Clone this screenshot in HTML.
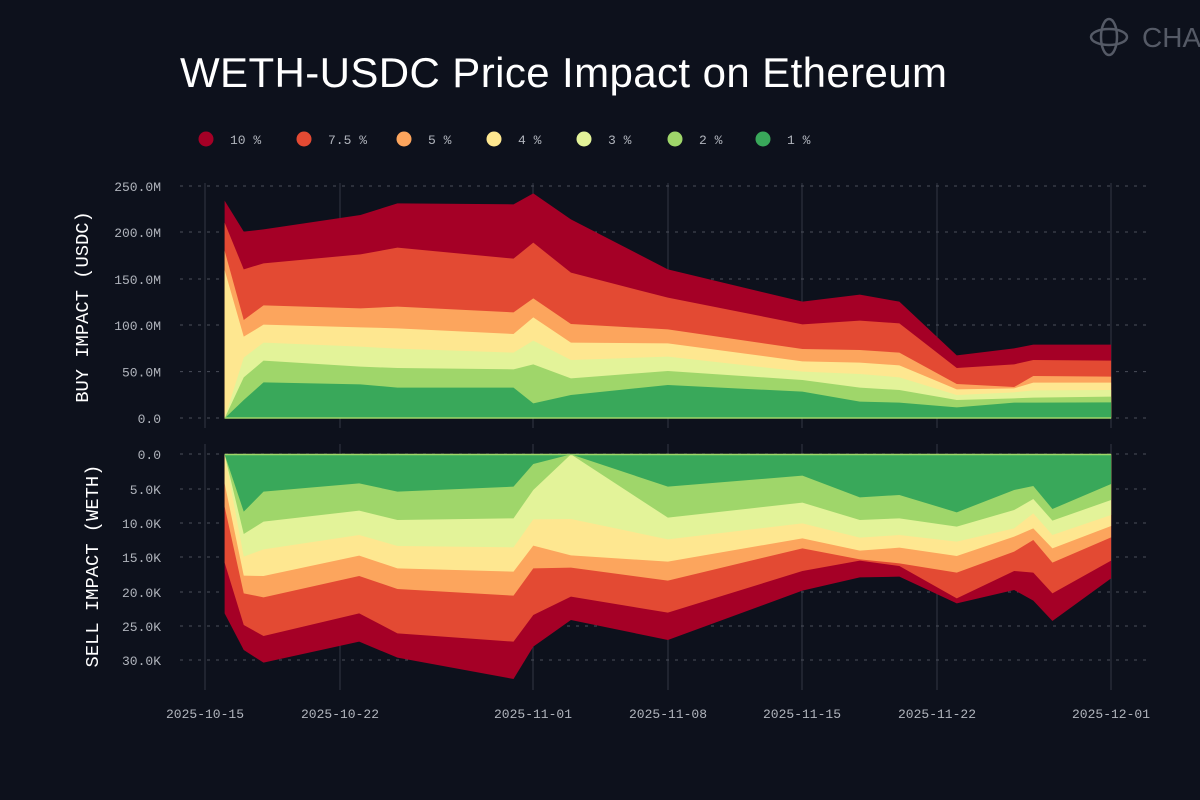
<!DOCTYPE html>
<html><head><meta charset="utf-8"><style>
body{margin:0;background:#0d111c;width:1200px;height:800px;overflow:hidden}
svg{display:block}
text{font-family:"Liberation Mono",monospace}
</style></head><body>
<svg id="s" width="1200" height="800" xmlns="http://www.w3.org/2000/svg">
<rect width="1200" height="800" fill="#0d111c"/>
<g id="grid"></g>
<g id="top"></g>
<g id="bot"></g>
<text x="180" y="87" fill="#fff" font-size="42" letter-spacing="0.4" style="font-family:'Liberation Sans',sans-serif">WETH-USDC Price Impact on Ethereum</text>
<g fill="none" stroke="#555a66" stroke-width="2.5"><ellipse cx="1109" cy="37" rx="8" ry="18"/><ellipse cx="1109" cy="37" rx="18" ry="8"/></g>
<text x="1142" y="47" fill="#555a66" font-size="28" style="font-family:'Liberation Sans',sans-serif">CHAO</text>
<g id="leg" font-size="13" fill="#b0b4bc"></g>
<text transform="translate(88,307) rotate(-90)" text-anchor="middle" fill="#fff" font-size="18.8">BUY IMPACT (USDC)</text>
<text transform="translate(98,566) rotate(-90)" text-anchor="middle" fill="#fff" font-size="18.8">SELL IMPACT (WETH)</text>
</svg>
<script>
const NS="http://www.w3.org/2000/svg";
function el(p,t,a,txt){const e=document.createElementNS(NS,t);for(const k in a)e.setAttribute(k,a[k]);if(txt!==undefined)e.textContent=txt;document.getElementById(p).appendChild(e);return e;}
const cols=["#a50026","#e34a33","#fca55d","#fee790","#e3f399","#9fd66a","#39a85a"];
const labs=["10 %","7.5 %","5 %","4 %","3 %","2 %","1 %"];
const lx=[206,304,404,494,584,675,763];
labs.forEach((l,i)=>{el("leg","circle",{cx:lx[i],cy:139,r:7.5,fill:cols[i]});el("leg","text",{x:lx[i]+24,y:144},l);});
const dx=[205,340,533,668,802,937,1111],dl=["2025-10-15","2025-10-22","2025-11-01","2025-11-08","2025-11-15","2025-11-22","2025-12-01"];
dx.forEach((x,i)=>{el("grid","line",{x1:x,x2:x,y1:183,y2:428,stroke:"#343844"});el("grid","line",{x1:x,x2:x,y1:444,y2:690,stroke:"#343844"});
el("grid","text",{x:x,y:718,"text-anchor":"middle",fill:"#b0b4bc","font-size":13},dl[i]);});
const ty=[[418,"0.0"],[371.6,"50.0M"],[325,"100.0M"],[279,"150.0M"],[232,"200.0M"],[186,"250.0M"]];
ty.forEach(t=>{el("grid","line",{x1:180,x2:1152,y1:t[0],y2:t[0],stroke:"#4a4e5a","stroke-dasharray":"3 6"});el("grid","text",{x:161,y:t[0]+5,"text-anchor":"end",fill:"#b0b4bc","font-size":13},t[1]);});
const by=[[454,"0.0"],[489,"5.0K"],[523,"10.0K"],[557,"15.0K"],[592,"20.0K"],[626,"25.0K"],[660,"30.0K"]];
by.forEach(t=>{el("grid","line",{x1:180,x2:1152,y1:t[0],y2:t[0],stroke:"#4a4e5a","stroke-dasharray":"3 6"});el("grid","text",{x:161,y:t[0]+5,"text-anchor":"end",fill:"#b0b4bc","font-size":13},t[1]);});
const tx=[117,147,178,330,388,570,601,660,812,1023,1113,1175,1265,1355,1385,1507];
const T=[
[92,185,178,135,100,103,70,148,298,395,374,395,556,535,524,524],
[158,298,280,253,233,266,218,308,383,463,452,460,594,583,570,572],
[242,450,406,415,410,427,385,462,478,537,540,548,642,651,618,620],
[300,500,464,472,475,492,442,518,520,574,578,586,658,655,638,638],
[745,563,518,530,536,548,512,570,560,605,612,622,675,667,661,660],
[745,622,572,590,594,598,583,625,603,630,653,660,690,685,683,680],
[745,690,637,643,653,653,700,675,645,665,695,698,712,698,698,697]];
const X=z=>z/1.568+150;
T.forEach((r,i)=>{let p=tx.map((z,j)=>X(z)+","+(r[j]/3+170)).join(" ");p+=" "+X(1507)+",418.3 "+X(117)+",418.3";el("top","polygon",{points:p,fill:cols[i]});});
el("top","line",{x1:X(117),x2:X(1507),y1:418,y2:418,stroke:"#9fd66a","stroke-width":1.5});
const bx=[117,147,178,328,388,570,601,660,812,1023,1113,1175,1265,1355,1385,1415,1507];
const B=[
[520,630,668,605,653,717,620,540,600,452,412,410,490,450,482,543,415],
[368,555,588,520,580,605,525,470,518,393,362,378,475,393,398,460,362],
[200,460,472,408,447,467,385,383,422,325,358,370,398,335,300,368,292],
[130,407,408,347,385,395,317,346,365,295,332,323,348,290,265,325,258],
[43,350,328,285,318,322,238,237,298,250,293,285,305,265,220,285,225],
[43,282,245,212,240,235,150,43,233,188,240,235,260,210,177,242,180],
[43,215,155,130,155,140,72,43,140,107,172,165,217,150,138,207,132]];
B.forEach((r,i)=>{let p=X(117)+",454.3 "+X(1507)+",454.3 ";p+=bx.slice().reverse().map((z,j)=>X(z)+","+(r[r.length-1-j]/3+440)).join(" ");el("bot","polygon",{points:p,fill:cols[i]});});
el("bot","line",{x1:X(117),x2:X(1507),y1:454.5,y2:454.5,stroke:"#9fd66a","stroke-width":1.5});
</script>
</body></html>
